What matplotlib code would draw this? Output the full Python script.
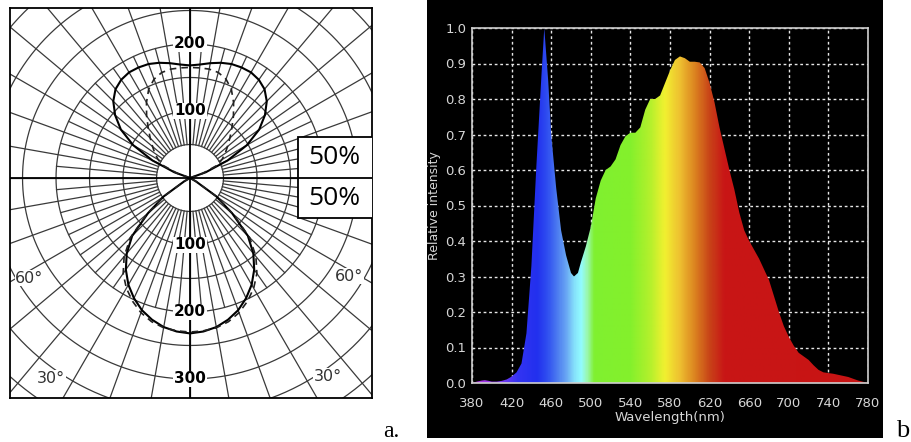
import numpy as np
import matplotlib.pyplot as plt
from matplotlib.colors import LinearSegmentedColormap
from matplotlib.patches import Rectangle

# =====================================================
# DATA
# =====================================================

# panel a: polar intensity (cd/klm), angle measured from the vertical
GRID_RADII = [50, 100, 150, 200, 250, 300, 350, 400, 450]
MAJOR_SPOKES = list(range(0, 360, 10))
MINOR_SPOKES = list(range(5, 360, 10))

# downward lobe, angle from nadir
LOW_ANG = [0, 5, 10, 15, 20, 25, 30, 35, 40, 45, 50, 55, 60, 65]
LOW_C0 = [232, 230, 226, 219, 210, 198, 184, 167, 147, 122, 82, 48, 10, 0]
LOW_C90 = [230, 229, 227, 222, 214, 203, 190, 174, 153, 126, 84, 48, 10, 0]

# upward lobe, angle from zenith
UP_ANG = [0, 5, 10, 15, 20, 25, 30, 35, 40, 45, 50, 55, 60, 65, 70, 75]
UP_C0 = [168, 170, 174, 178, 181, 182, 182, 179, 173, 162, 146, 126, 98, 62, 25, 0]
UP_C90 = [165, 165, 165, 163, 157, 146, 130, 113, 97, 84, 73, 64, 55, 45, 20, 0]

UP_LABELS = [100, 200]
LOW_LABELS = [100, 200, 300]

# panel b: relative spectral power
WL = [380, 385, 390, 393, 397, 400, 405, 410, 415, 420, 425, 430, 435, 440,
      445, 450, 453, 457, 460, 465, 470, 475, 480, 483, 487, 490, 495, 500,
      505, 510, 515, 520, 525, 530, 535, 540, 545, 550, 555, 560, 565, 570,
      575, 580, 585, 590, 595, 600, 605, 610, 615, 620, 625, 630, 635, 640,
      645, 650, 655, 660, 665, 670, 675, 680, 685, 690, 695, 700, 705, 710,
      715, 720, 725, 730, 735, 740, 745, 750, 760, 770, 780]
INTENSITY = [0.0, 0.004, 0.007, 0.008, 0.006, 0.004, 0.004, 0.006, 0.010, 0.018,
             0.030, 0.055, 0.14, 0.33, 0.61, 0.86, 1.0, 0.85, 0.70, 0.55,
             0.43, 0.36, 0.31, 0.30, 0.31, 0.34, 0.385, 0.44, 0.52, 0.57,
             0.60, 0.61, 0.63, 0.67, 0.695, 0.705, 0.705, 0.72, 0.77, 0.80,
             0.80, 0.81, 0.845, 0.88, 0.91, 0.92, 0.915, 0.905, 0.905, 0.903,
             0.887, 0.845, 0.79, 0.72, 0.66, 0.60, 0.545, 0.48, 0.43, 0.40,
             0.375, 0.35, 0.32, 0.29, 0.245, 0.20, 0.16, 0.13, 0.105, 0.085,
             0.075, 0.065, 0.05, 0.037, 0.03, 0.028, 0.026, 0.023, 0.017,
             0.007, 0.0]

# colour stops of the visible band
COLOR_WL = [380, 405, 425, 445, 455, 465, 475, 484, 490, 496, 503, 540, 560,
            575, 590, 605, 620, 635, 780]
COLOR_HEX = ["#b030d8", "#8a38f0", "#3434f2", "#2230ee", "#2e4cf0", "#4a78f0",
             "#6aa8f4", "#88e6fc", "#92fcff", "#9af8b0", "#80f030", "#84f02c",
             "#b4f02c", "#f2f030", "#eec030", "#dc8420", "#c84418", "#c81616",
             "#c81414"]

X_TICKS = list(range(380, 781, 40))
Y_TICKS = [i / 10 for i in range(11)]

# =====================================================
# FIGURE
# =====================================================

W, H = 912, 442
fig = plt.figure(figsize=(W / 100, H / 100), dpi=100)


def rect(x0, y0, x1, y1):
    return [x0 / W, 1 - y1 / H, (x1 - x0) / W, (y1 - y0) / H]


# -----------------------------------------------------
# panel a
# -----------------------------------------------------
ax = fig.add_axes(rect(10, 8, 372, 398))
ax.set_xlim(-268.7, 271.6)
ax.set_ylim(-328.4, 253.7)
ax.set_xticks([])
ax.set_yticks([])
for s in ax.spines.values():
    s.set_color("black")
    s.set_linewidth(1.3)

grid_kw = dict(color="#3a3a3a", lw=0.9, zorder=1)
t = np.radians(np.arange(0, 361, 1))
for r in GRID_RADII:
    ax.plot(r * np.sin(t), r * np.cos(t), **grid_kw)
for a in MAJOR_SPOKES:
    ar = np.radians(a)
    ax.plot([50 * np.sin(ar), 600 * np.sin(ar)],
            [50 * np.cos(ar), 600 * np.cos(ar)], **grid_kw)
for a in MINOR_SPOKES:
    ar = np.radians(a)
    ax.plot([50 * np.sin(ar), 200 * np.sin(ar)],
            [50 * np.cos(ar), 200 * np.cos(ar)], **grid_kw)

ax.axhline(0, color="black", lw=1.3, zorder=6)
ax.axvline(0, color="black", lw=1.3, zorder=2)


def lobe(ang, val, down):
    ang = np.radians(np.array(ang, dtype=float))
    val = np.array(val, dtype=float)
    a = np.concatenate([-ang[::-1], ang])
    r = np.concatenate([val[::-1], val])
    sign = -1 if down else 1
    return r * np.sin(a), sign * r * np.cos(a)


x, y = lobe(LOW_ANG, LOW_C0, True)
ax.plot(x, y, color="black", lw=1.5, zorder=3)
x, y = lobe(LOW_ANG, LOW_C90, True)
ax.plot(x, y, color="#222222", lw=1.2, dashes=(4, 3), zorder=3)
x, y = lobe(UP_ANG, UP_C0, False)
ax.plot(x, y, color="black", lw=1.5, zorder=3)
x, y = lobe(UP_ANG, UP_C90, False)
ax.plot(x, y, color="#222222", lw=1.2, dashes=(4, 3), zorder=3)

lab_kw = dict(ha="center", va="center", fontsize=11, fontweight="bold",
              bbox=dict(facecolor="white", edgecolor="none", pad=0.6), zorder=4)
for v in UP_LABELS:
    ax.text(0, v, str(v), **lab_kw)
for v in LOW_LABELS:
    ax.text(0, -v, str(v), **lab_kw)

deg_kw = dict(ha="center", va="center", fontsize=11.5, color="#333333",
              bbox=dict(facecolor="white", edgecolor="none", pad=0.3), zorder=4)
for ang, rad, txt in [(58, 283, "60°"), (34.7, 364, "30°")]:
    ar = np.radians(ang)
    ax.text(-rad * np.sin(ar), -rad * np.cos(ar), txt, **deg_kw)
    ax.text(rad * np.sin(ar) - 2, -rad * np.cos(ar) + 3, txt, **deg_kw)

ax.add_patch(Rectangle((161, -60), 120, 121, facecolor="white",
                       edgecolor="black", lw=1.3, zorder=5))
for yy in (30, -30):
    ax.text(216, yy, "50%", ha="center", va="center", fontsize=19,
            family="Open Sans", zorder=7)

fig.text(383 / W, 1 - 437 / H, "a.", family="Liberation Serif", fontsize=17,
         ha="left", va="baseline")

# -----------------------------------------------------
# panel b
# -----------------------------------------------------
bg = fig.add_axes(rect(427, 0, 883, 438))
bg.set_facecolor("black")
bg.set_xticks([])
bg.set_yticks([])
for s in bg.spines.values():
    s.set_visible(False)

bx = fig.add_axes(rect(472, 28, 868, 383))
bx.set_facecolor("black")

cmap = LinearSegmentedColormap.from_list(
    "spec", list(zip([(w - 380) / 400 for w in COLOR_WL], COLOR_HEX)))
grad = np.linspace(0, 1, 800)[None, :]
img = bx.imshow(grad, extent=[380, 780, 0, 1], aspect="auto", cmap=cmap,
                origin="lower", zorder=2, interpolation="bilinear")
poly = bx.fill_between(WL, INTENSITY, 0, facecolor="none", edgecolor="none")
img.set_clip_path(poly.get_paths()[0], transform=bx.transData)

bx.set_xlim(380, 780)
bx.set_ylim(0, 1.0)
bx.set_xticks(X_TICKS)
bx.set_yticks(Y_TICKS)
bx.set_yticklabels([f"{v:.1f}" for v in Y_TICKS])
bx.tick_params(length=0, colors="#d6d6d6", labelsize=9.5)
bx.tick_params(axis="x", pad=10)
bx.tick_params(axis="y", pad=4)
bx.set_axisbelow(True)
bx.grid(True, color="#e6e6e6", lw=1.0, linestyle=(0, (2, 2)))
for s in bx.spines.values():
    s.set_color("#cfcfcf")
    s.set_linewidth(1.2)
bx.set_xlabel("Wavelength(nm)", color="#d6d6d6", fontsize=9.5, labelpad=1)
bx.set_ylabel("Relative intensity", color="#d6d6d6", fontsize=9, labelpad=3)

fig.text(896 / W, 1 - 437 / H, "b", family="Liberation Serif", fontsize=19,
         ha="left", va="baseline")

fig.savefig("out.png", dpi=100, facecolor="white")
